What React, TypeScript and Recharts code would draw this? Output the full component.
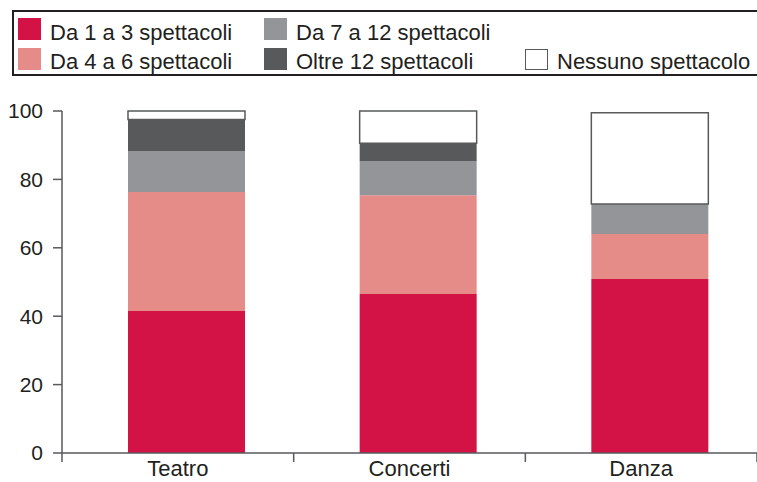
import React from 'react';
import { BarChart, Bar, XAxis, YAxis, Rectangle } from 'recharts';

const categories = ['Teatro', 'Concerti', 'Danza'];
const da1a3 = [41.5, 46.5, 50.9];
const da4a6 = [34.8, 28.9, 13.1];
const da7a12 = [12.0, 10.0, 8.8];
const oltre12 = [9.2, 5.2, 0];
const nessuno = [2.5, 9.4, 26.7];
const yTicks = [0, 20, 40, 60, 80, 100];

const seriesKeys = ['da1a3', 'da4a6', 'da7a12', 'oltre12', 'nessuno'];
const seriesNames = [
  'Da 1 a 3 spettacoli',
  'Da 4 a 6 spettacoli',
  'Da 7 a 12 spettacoli',
  'Oltre 12 spettacoli',
  'Nessuno spettacolo',
];
const seriesColors = ['#d31245', '#e68c88', '#939598', '#58595b', '#ffffff'];

const data = categories.map((name, i) => ({
  name,
  da1a3: da1a3[i],
  da4a6: da4a6[i],
  da7a12: da7a12[i],
  oltre12: oltre12[i],
  nessuno: nessuno[i],
}));

const W = 757;
const H = 482;
const Y_AXIS_W = 62;
const PLOT_TOP = 111;
const X_AXIS_H = 29;
const BAND = (W - Y_AXIS_W) / categories.length;
const BAR_SHIFT = 9;
const AXIS = '#58595b';
const TEXT = '#231f20';
const FONT = '"Liberation Sans", Arial, sans-serif';

// legend slots: [swatch left, row]
const legendSlots = [
  [18, 0],
  [18, 1],
  [264, 0],
  [264, 1],
  [525, 1],
];

const LegendBox = () => (
  <div
    style={{
      position: 'absolute',
      left: 12,
      top: 10,
      width: 770,
      height: 66,
      border: `2px solid ${TEXT}`,
      boxSizing: 'border-box',
    }}
  />
);

const LegendItems = () => (
  <>
    {seriesNames.map((name, i) => {
      const [left, row] = legendSlots[i];
      const top = row === 0 ? 18 : 48;
      const white = seriesColors[i] === '#ffffff';
      return (
        <React.Fragment key={name}>
          <div
            style={{
              position: 'absolute',
              left,
              top: white ? top + 1 : top,
              width: 23,
              height: white ? 21 : 22,
              background: seriesColors[i],
              border: white ? `1.5px solid ${AXIS}` : 'none',
              boxSizing: 'border-box',
            }}
          />
          <span
            style={{
              position: 'absolute',
              left: left + 32,
              top: (row === 0 ? 41 : 70) - 18.6,
              fontFamily: FONT,
              fontSize: 22,
              lineHeight: '22px',
              color: TEXT,
              whiteSpace: 'nowrap',
            }}
          >
            {name}
          </span>
        </React.Fragment>
      );
    })}
  </>
);

const XTick = ({ x, y, payload, index }: any) => (
  <g>
    <text x={x} y={y + 23} textAnchor="middle" fill={TEXT} fontSize={22} fontFamily={FONT}>
      {payload.value}
    </text>
    <line x1={x + BAND / 2} x2={x + BAND / 2} y1={y} y2={y + 9} stroke={AXIS} strokeWidth={1.5} />
    {index === 0 && (
      <line x1={x - BAND / 2} x2={x - BAND / 2} y1={y} y2={y + 9} stroke={AXIS} strokeWidth={1.5} />
    )}
  </g>
);

const ShiftedBar = (props: any) => <Rectangle {...props} x={props.x + BAR_SHIFT} />;

export default function App() {
  return (
    <div
      style={{
        position: 'absolute',
        left: 0,
        top: 0,
        width: W,
        height: H,
        background: '#fff',
        overflow: 'hidden',
      }}
    >
      <BarChart
        width={W}
        height={H}
        data={data}
        barSize={117}
        margin={{ top: PLOT_TOP, right: 0, left: 0, bottom: 0 }}
      >
        <XAxis
          dataKey="name"
          height={X_AXIS_H}
          axisLine={{ stroke: AXIS, strokeWidth: 1.5 }}
          tickLine={false}
          tickSize={0}
          tickMargin={0}
          tick={<XTick />}
          interval={0}
        />
        <YAxis
          width={Y_AXIS_W}
          domain={[0, 100]}
          ticks={yTicks}
          interval={0}
          axisLine={{ stroke: AXIS, strokeWidth: 1.5 }}
          tickLine={{ stroke: AXIS, strokeWidth: 1.5 }}
          tickSize={9}
          tickMargin={10}
          tick={{ fill: TEXT, fontSize: 21, fontFamily: FONT }}
        />
        {seriesKeys.map((key, i) => (
          <Bar
            key={key}
            dataKey={key}
            name={seriesNames[i]}
            stackId="a"
            fill={seriesColors[i]}
            stroke={seriesColors[i] === '#ffffff' ? AXIS : 'none'}
            strokeWidth={seriesColors[i] === '#ffffff' ? 1.5 : 0}
            shape={<ShiftedBar />}
            isAnimationActive={false}
          />
        ))}
      </BarChart>
      <LegendBox />
      <LegendItems />
    </div>
  );
}
